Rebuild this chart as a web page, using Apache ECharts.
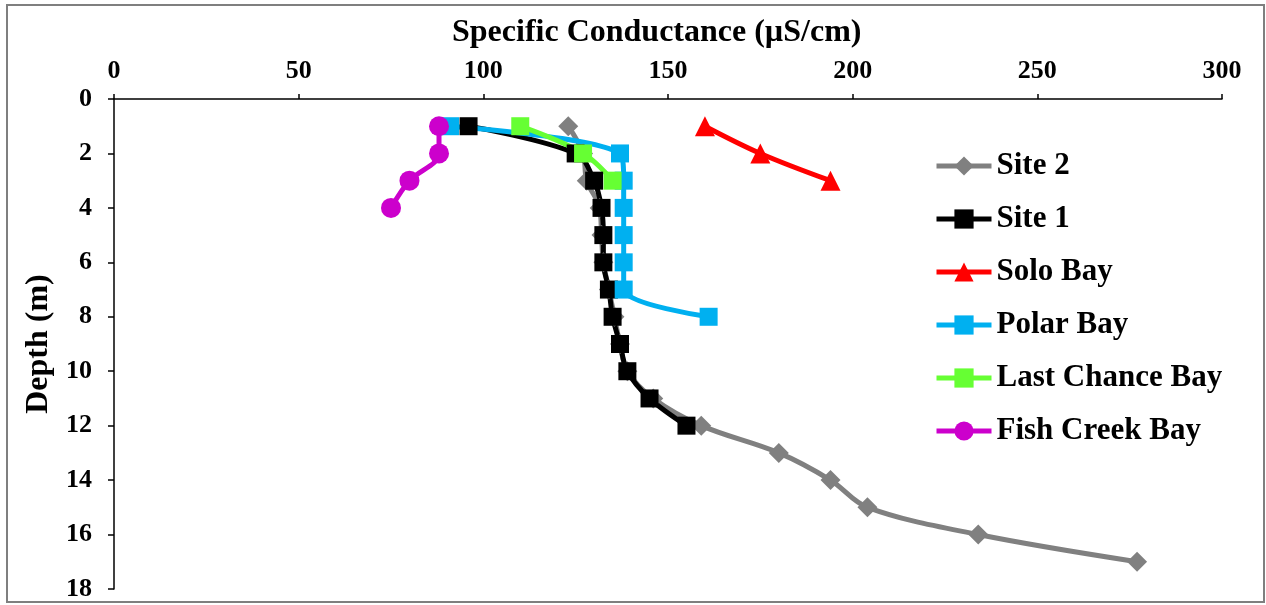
<!DOCTYPE html>
<html>
<head>
<meta charset="utf-8">
<script src="https://cdn.jsdelivr.net/npm/echarts@6/dist/echarts.min.js"></script>
<style>
html,body{margin:0;padding:0;background:#fff;}
#chart{width:1266px;height:605px;}
</style>
</head>
<body>
<div id="chart"></div>
<script>
var xTicks = [0, 50, 100, 150, 200, 250, 300];
var yTicks = [0, 2, 4, 6, 8, 10, 12, 14, 16, 18];

var site2Depth = [1,2,3,4,5,6,7,8,9,10,11,12,13,14,15,16,17];
var site2Cond  = [123,127,128,131.5,132,132.5,134,135.5,137,139,146,159,180,194,204,234,277];

var site1Depth = [1,2,3,4,5,6,7,8,9,10,11,12];
var site1Cond  = [96,125,130,132,132.5,132.5,134,135,137,139,145,155];

var soloDepth = [1,2,3];
var soloCond  = [160,175,194];

var polarDepth = [1,2,3,4,5,6,7,8];
var polarCond  = [91,137,138,138,138,138,138,161];

var lastDepth = [1,2,3];
var lastCond  = [110,127,135];

var fishDepth = [1,2,3,4];
var fishCond  = [88,88,80,75];

var FONT = '"Liberation Serif","Times New Roman",serif';

function pairs(x, y) {
  return x.map(function (v, i) { return [v, y[i]]; });
}

function mkSeries(name, cond, depth, color, symbol, size) {
  return {
    name: name,
    type: 'line',
    data: pairs(cond, depth),
    smooth: 0.35,
    symbol: symbol,
    symbolSize: size,
    showSymbol: true,
    lineStyle: { color: color, width: 5 },
    itemStyle: { color: color },
    emphasis: { disabled: true },
    animation: false
  };
}

var chart = echarts.init(document.getElementById('chart'));
chart.setOption({
  animation: false,
  backgroundColor: '#ffffff',
  title: {
    text: 'Specific Conductance (µS/cm)',
    left: 447,
    top: 12,
    textStyle: { fontFamily: FONT, fontWeight: 'bold', fontSize: 32, color: '#000' }
  },
  grid: { left: 114, right: 44, top: 99, bottom: 16, containLabel: false },
  xAxis: {
    type: 'value',
    position: 'top',
    min: xTicks[0],
    max: xTicks[xTicks.length - 1],
    interval: 50,
    splitLine: { show: false },
    axisLine: { show: true, onZero: false, lineStyle: { color: '#000', width: 1.5 } },
    axisTick: { show: true, length: 5, lineStyle: { color: '#000', width: 1.5 } },
    axisLabel: { fontFamily: FONT, fontWeight: 'bold', fontSize: 26, color: '#000', margin: 15 }
  },
  yAxis: {
    type: 'value',
    inverse: true,
    min: yTicks[0],
    max: yTicks[yTicks.length - 1],
    interval: 2,
    name: 'Depth (m)',
    nameLocation: 'middle',
    nameRotate: 90,
    nameGap: 56,
    nameTextStyle: { fontFamily: FONT, fontWeight: 'bold', fontSize: 32, color: '#000' },
    splitLine: { show: false },
    axisLine: { show: true, onZero: false, lineStyle: { color: '#000', width: 1.5 } },
    axisTick: { show: true, length: 6, lineStyle: { color: '#000', width: 1.5 } },
    axisLabel: { fontFamily: FONT, fontWeight: 'bold', fontSize: 26, color: '#000', margin: 22 }
  },
  legend: {
    orient: 'vertical',
    left: 929,
    top: 145,
    itemWidth: 55,
    itemHeight: 24,
    itemGap: 21,
    lineStyle: { width: 5 },
    textStyle: { fontFamily: FONT, fontWeight: 'bold', fontSize: 31, color: '#000', lineHeight: 32 },
    data: ['Site 2', 'Site 1', 'Solo Bay', 'Polar Bay', 'Last Chance Bay', 'Fish Creek Bay']
  },
  graphic: [{
    type: 'rect',
    shape: { x: 7, y: 5, width: 1257, height: 597 },
    style: { fill: 'none', stroke: '#7f7f7f', lineWidth: 2 },
    silent: true
  }],
  series: [
    mkSeries('Site 2', site2Cond, site2Depth, '#808080', 'diamond', 20),
    mkSeries('Site 1', site1Cond, site1Depth, '#000000', 'rect', 18),
    mkSeries('Solo Bay', soloCond, soloDepth, '#ff0000', 'triangle', 20),
    mkSeries('Polar Bay', polarCond, polarDepth, '#00b0f0', 'rect', 18),
    mkSeries('Last Chance Bay', lastCond, lastDepth, '#66ff33', 'rect', 18),
    mkSeries('Fish Creek Bay', fishCond, fishDepth, '#cc00cc', 'circle', 20)
  ]
});
</script>
</body>
</html>
